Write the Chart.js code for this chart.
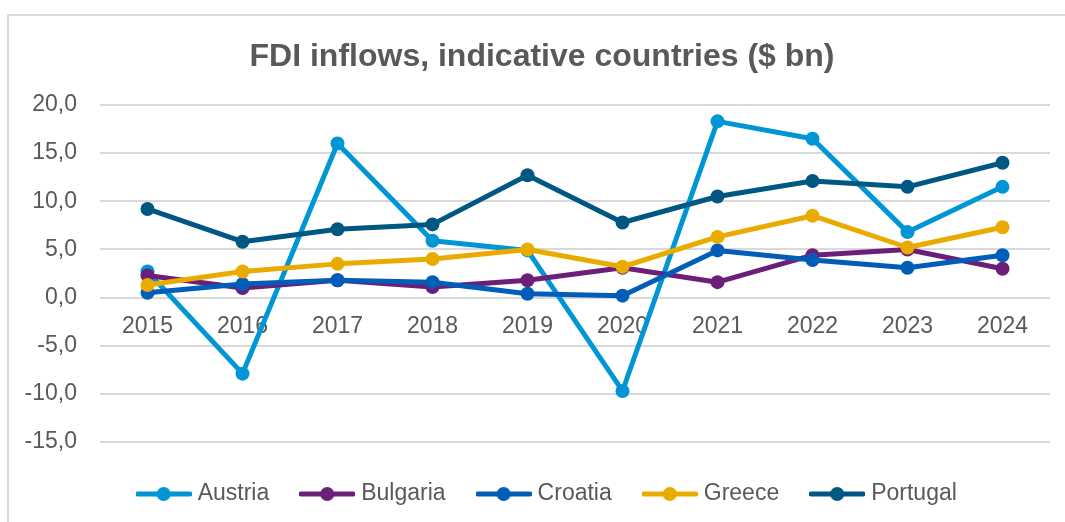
<!DOCTYPE html>
<html>
<head>
<meta charset="utf-8">
<title>FDI inflows</title>
<script src="https://cdn.jsdelivr.net/npm/chart.js@4/dist/chart.umd.min.js"></script>
<style>
    html, body { margin: 0; padding: 0; background: #fff; overflow: hidden; }
    #wrap { position: relative; width: 1065px; height: 522px; }
    #frame {
        position: absolute; left: 7px; top: 14px;
        width: 1100px; height: 600px;
        border: 2px solid #d9d9d9;
    }
    #fdiChart { position: absolute; left: 0; top: 0; }
</style>
</head>
<body>
<div id="wrap">
    <div id="frame"></div>
    <canvas id="fdiChart" width="1065" height="522"></canvas>
</div>
<script>
// --- data ($ bn) ---
const years = ['2015', '2016', '2017', '2018', '2019', '2020', '2021', '2022', '2023', '2024'];
const austria  = [2.7, -7.9, 16.0, 5.9, 4.9, -9.7, 18.3, 16.5, 6.8, 11.5];
const bulgaria = [2.3, 1.0, 1.8, 1.1, 1.8, 3.1, 1.6, 4.4, 5.0, 3.0];
const croatia  = [0.5, 1.4, 1.8, 1.6, 0.4, 0.2, 4.9, 3.9, 3.1, 4.4];
const greece   = [1.3, 2.7, 3.5, 4.0, 5.0, 3.2, 6.3, 8.5, 5.2, 7.3];
const portugal = [9.2, 5.8, 7.1, 7.6, 12.7, 7.8, 10.5, 12.1, 11.5, 14.0];
const yTicks = [-15, -10, -5, 0, 5, 10, 15, 20];

const FONT = "'Liberation Sans', Arial, sans-serif";
const TEXT_GREY = '#595959';

// line + dot marker for the legend
function legendMarker(color) {
    const c = document.createElement('canvas');
    c.width = 56;
    c.height = 16;
    const g = c.getContext('2d');
    g.strokeStyle = color;
    g.lineWidth = 5;
    g.lineCap = 'round';
    g.beginPath();
    g.moveTo(2, 8);
    g.lineTo(54, 8);
    g.stroke();
    g.fillStyle = color;
    g.beginPath();
    g.arc(28, 8, 7, 0, Math.PI * 2);
    g.fill();
    return c;
}

function series(label, values, color, order) {
    return {
        label: label,
        data: values,
        borderColor: color,
        backgroundColor: color,
        borderWidth: 5,
        borderJoinStyle: 'round',
        borderCapStyle: 'round',
        pointRadius: 7,
        pointBorderWidth: 0,
        pointHoverRadius: 7,
        tension: 0,
        fill: false,
        order: order,
        marker: legendMarker(color)
    };
}

// title and legend are centred on the whole canvas by default, move them right a bit
const blockShift = {
    id: 'blockShift',
    afterLayout: function(chart) {
        if (chart.titleBlock) chart.titleBlock.left += 34;
        if (chart.legend) chart.legend.left += 48;
    }
};

const ctx = document.getElementById('fdiChart');
new Chart(ctx, {
    type: 'line',
    data: {
        labels: years,
        datasets: [
            series('Austria',  austria,  '#0096d6', 5),
            series('Bulgaria', bulgaria, '#6b1f78', 4),
            series('Croatia',  croatia,  '#005eb8', 3),
            series('Greece',   greece,   '#eaab00', 2),
            series('Portugal', portugal, '#005882', 1)
        ]
    },
    plugins: [blockShift],
    options: {
        responsive: false,
        animation: false,
        layout: { padding: { left: 0, right: 15, top: 0, bottom: 6.5 } },
        plugins: {
            tooltip: { enabled: false },
            title: {
                display: true,
                text: 'FDI inflows, indicative countries ($ bn)',
                color: TEXT_GREY,
                font: { family: FONT, size: 32, weight: 'bold', lineHeight: 1.2 },
                padding: { top: 38, bottom: 28.6 }
            },
            legend: {
                position: 'bottom',
                title: { display: true, text: '', font: { size: 5, lineHeight: 1 }, padding: 0 },
                labels: {
                    color: TEXT_GREY,
                    font: { family: FONT, size: 23 },
                    usePointStyle: true,
                    pointStyleWidth: 45,
                    padding: 35.5,
                    generateLabels: function(chart) {
                        return chart.data.datasets.map((ds, i) => ({
                            text: ds.label,
                            pointStyle: ds.marker,
                            fontColor: TEXT_GREY,
                            strokeStyle: ds.borderColor,
                            fillStyle: ds.borderColor,
                            lineWidth: 0,
                            hidden: false,
                            datasetIndex: i
                        }));
                    }
                }
            }
        },
        scales: {
            x: {
                position: { y: 0 },
                offset: true,
                grid: { display: false, drawTicks: false },
                border: { display: false },
                ticks: {
                    color: TEXT_GREY,
                    font: { family: FONT, size: 23 },
                    padding: 15.5,
                    maxRotation: 0
                }
            },
            y: {
                min: yTicks[0],
                max: yTicks[yTicks.length - 1],
                afterFit: function(scale) { scale.width = 100; },
                afterBuildTicks: function(scale) {
                    scale.ticks = yTicks.map(v => ({ value: v }));
                },
                grid: { color: '#d9d9d9', lineWidth: 2, drawTicks: false },
                border: { display: false },
                ticks: {
                    color: TEXT_GREY,
                    font: { family: FONT, size: 23 },
                    padding: 23,
                    callback: v => v.toFixed(1).replace('.', ',')
                }
            }
        }
    }
});
</script>
</body>
</html>
